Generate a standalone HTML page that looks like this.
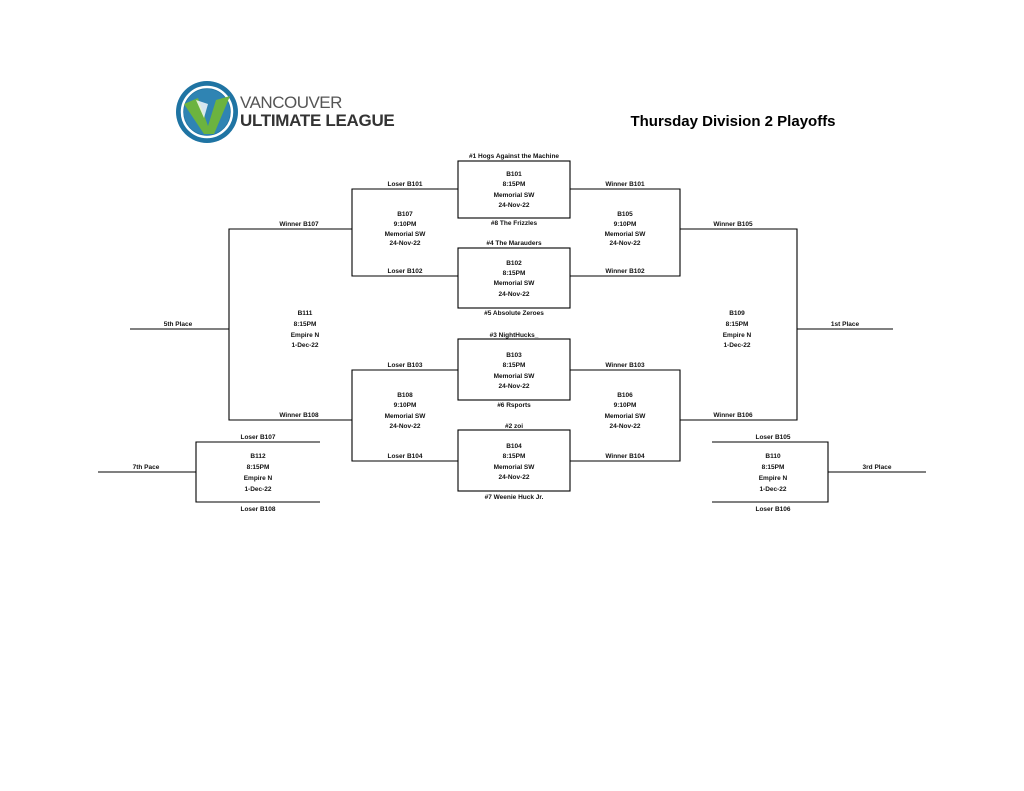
<!DOCTYPE html>
<html><head><meta charset="utf-8"><style>
html,body{margin:0;padding:0;background:#fff;}
svg{display:block;}
text{font-family:"Liberation Sans",sans-serif;font-weight:bold;font-size:6.5px;fill:#111;text-anchor:middle;}
</style></head><body>
<svg width="1024" height="791" viewBox="0 0 1024 791" xmlns="http://www.w3.org/2000/svg">
<circle cx="207" cy="112" r="31" fill="#1f74a3"/>
<circle cx="207" cy="112" r="25" fill="none" stroke="#fff" stroke-width="2.5"/>
<circle cx="207" cy="112" r="23" fill="#2f84b3"/>
<path d="M184 104 L198 98 L208 126 L216 100 L230 96 L214 134 L204 134 Z" fill="#6cb33f"/>
<path d="M196 100 L204 118 L208 104 Z" fill="#fff" opacity="0.8"/>
<text x="240" y="108" style="font-weight:normal;font-size:17px;text-anchor:start;fill:#555;letter-spacing:-0.5px">VANCOUVER</text>
<text x="240" y="126" style="font-weight:bold;font-size:17px;text-anchor:start;fill:#333;letter-spacing:-0.3px">ULTIMATE LEAGUE</text>
<text x="733" y="126" style="font-size:15px;fill:#000">Thursday Division 2 Playoffs</text>
<g stroke="#000" stroke-width="1.1" fill="none">
<rect x="458" y="161" width="112" height="57"/>
<rect x="458" y="248" width="112" height="60"/>
<rect x="458" y="339" width="112" height="61"/>
<rect x="458" y="430" width="112" height="61"/>
<path d="M458 189H352V276H458M352 229H229V420H352M458 370H352V461H458"/>
<path d="M570 189H680V276H570M680 229H797V420H680M570 370H680V461H570"/>
<path d="M130 329H229M797 329H893"/>
<path d="M320 442H196V502H320M98 472H196"/>
<path d="M712 442H828V502H712M828 472H926"/>
</g>
<text x="514" y="158">#1 Hogs Against the Machine</text>
<text x="514" y="176">B101</text><text x="514" y="186">8:15PM</text><text x="514" y="197">Memorial SW</text><text x="514" y="207">24-Nov-22</text>
<text x="514" y="225">#8 The Frizzles</text>
<text x="514" y="245">#4 The Marauders</text>
<text x="514" y="265">B102</text><text x="514" y="275">8:15PM</text><text x="514" y="285">Memorial SW</text><text x="514" y="296">24-Nov-22</text>
<text x="514" y="315">#5 Absolute Zeroes</text>
<text x="514" y="337">#3 NightHucks_</text>
<text x="514" y="357">B103</text><text x="514" y="367">8:15PM</text><text x="514" y="378">Memorial SW</text><text x="514" y="388">24-Nov-22</text>
<text x="514" y="407">#6 Rsports</text>
<text x="514" y="428">#2 zoi</text>
<text x="514" y="448">B104</text><text x="514" y="458">8:15PM</text><text x="514" y="469">Memorial SW</text><text x="514" y="479">24-Nov-22</text>
<text x="514" y="499">#7 Weenie Huck Jr.</text>
<text x="405" y="186">Loser B101</text><text x="625" y="186">Winner B101</text>
<text x="405" y="273">Loser B102</text><text x="625" y="273">Winner B102</text>
<text x="405" y="367">Loser B103</text><text x="625" y="367">Winner B103</text>
<text x="405" y="458">Loser B104</text><text x="625" y="458">Winner B104</text>
<text x="405" y="216">B107</text><text x="405" y="226">9:10PM</text><text x="405" y="236">Memorial SW</text><text x="405" y="245">24-Nov-22</text>
<text x="625" y="216">B105</text><text x="625" y="226">9:10PM</text><text x="625" y="236">Memorial SW</text><text x="625" y="245">24-Nov-22</text>
<text x="405" y="397">B108</text><text x="405" y="407">9:10PM</text><text x="405" y="418">Memorial SW</text><text x="405" y="428">24-Nov-22</text>
<text x="625" y="397">B106</text><text x="625" y="407">9:10PM</text><text x="625" y="418">Memorial SW</text><text x="625" y="428">24-Nov-22</text>
<text x="299" y="226">Winner B107</text><text x="733" y="226">Winner B105</text>
<text x="299" y="417">Winner B108</text><text x="733" y="417">Winner B106</text>
<text x="305" y="315">B111</text><text x="305" y="326">8:15PM</text><text x="305" y="337">Empire N</text><text x="305" y="347">1-Dec-22</text>
<text x="737" y="315">B109</text><text x="737" y="326">8:15PM</text><text x="737" y="337">Empire N</text><text x="737" y="347">1-Dec-22</text>
<text x="178" y="326">5th Place</text><text x="845" y="326">1st Place</text>
<text x="258" y="439">Loser B107</text><text x="258" y="511">Loser B108</text>
<text x="258" y="458">B112</text><text x="258" y="469">8:15PM</text><text x="258" y="480">Empire N</text><text x="258" y="491">1-Dec-22</text>
<text x="773" y="439">Loser B105</text><text x="773" y="511">Loser B106</text>
<text x="773" y="458">B110</text><text x="773" y="469">8:15PM</text><text x="773" y="480">Empire N</text><text x="773" y="491">1-Dec-22</text>
<text x="146" y="469">7th Pace</text><text x="877" y="469">3rd Place</text>
</svg>
</body></html>
